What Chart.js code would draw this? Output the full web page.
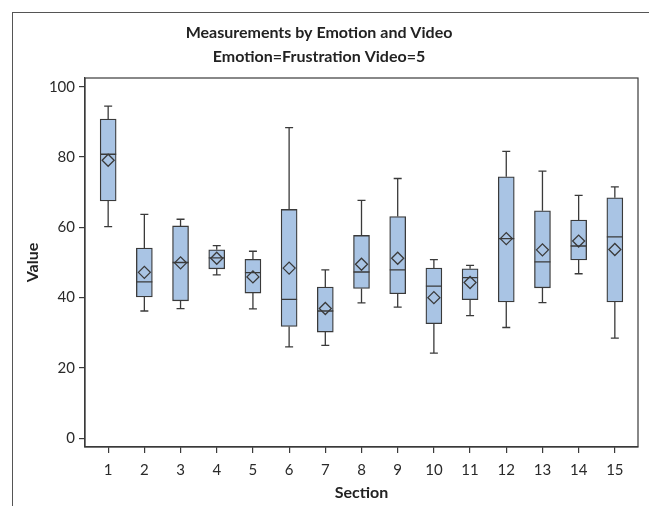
<!DOCTYPE html>
<html>
<head>
<meta charset="utf-8">
<script src="https://cdn.jsdelivr.net/npm/chart.js@4"></script>
<style>
  html, body { margin: 0; padding: 0; background: #fff; }
  .wrap { position: relative; width: 649px; height: 506px; }
  .frame { position: absolute; left: 12px; top: 12px; width: 700px; height: 600px;
           border-left: 1px solid #555; border-top: 1px solid #555; }
  canvas { position: absolute; left: 0; top: 0; }
</style>
</head>
<body>
<div class="wrap">
  <div class="frame"></div>
  <canvas id="chart" width="649" height="506"></canvas>
</div>
<script>
// data
const sections = [1, 2, 3, 4, 5, 6, 7, 8, 9, 10, 11, 12, 13, 14, 15];
const whiskerLow = [60.2, 36.2, 36.9, 46.5, 36.8, 26.0, 26.4, 38.5, 37.3, 24.2, 34.9, 31.5, 38.6, 46.8, 28.5];
const q1 = [67.5, 40.2, 39.1, 48.2, 41.3, 31.8, 30.2, 42.6, 41.1, 32.6, 39.4, 38.8, 42.8, 50.7, 38.8];
const median = [80.8, 44.5, 50.0, 51.3, 47.1, 39.5, 36.2, 47.3, 47.9, 43.3, 45.7, 56.8, 50.2, 54.7, 57.3];
const q3 = [90.8, 54.1, 60.4, 53.6, 50.9, 65.1, 43.0, 57.7, 63.1, 48.4, 48.2, 74.4, 64.7, 62.1, 68.4];
const whiskerHigh = [94.5, 63.7, 62.3, 54.8, 53.2, 88.4, 47.9, 67.7, 73.9, 50.8, 49.2, 81.6, 76.0, 69.1, 71.5];
const means = [79.1, 47.2, 49.9, 51.2, 45.9, 48.4, 36.9, 49.5, 51.2, 40.0, 44.3, 56.8, 53.6, 56.1, 53.7];
const yTicks = [0, 20, 40, 60, 80, 100];

const lineColor = '#3a3a3a';
const textColor = '#2a2a2a';

// whiskers, caps and median lines
const boxExtras = {
    id: 'boxExtras',
    afterDatasetsDraw(chart) {
        const ctx = chart.ctx;
        const x = chart.scales.x;
        const y = chart.scales.y;
        ctx.save();
        ctx.strokeStyle = lineColor;
        ctx.lineWidth = 1.3;
        sections.forEach((s, i) => {
            const px = x.getPixelForValue(s);
            ctx.beginPath();
            ctx.moveTo(px, y.getPixelForValue(q3[i]));
            ctx.lineTo(px, y.getPixelForValue(whiskerHigh[i]));
            ctx.moveTo(px, y.getPixelForValue(q1[i]));
            ctx.lineTo(px, y.getPixelForValue(whiskerLow[i]));
            ctx.moveTo(px - 4, y.getPixelForValue(whiskerHigh[i]));
            ctx.lineTo(px + 4, y.getPixelForValue(whiskerHigh[i]));
            ctx.moveTo(px - 4, y.getPixelForValue(whiskerLow[i]));
            ctx.lineTo(px + 4, y.getPixelForValue(whiskerLow[i]));
            ctx.moveTo(px - 8, y.getPixelForValue(median[i]));
            ctx.lineTo(px + 8, y.getPixelForValue(median[i]));
            ctx.stroke();
        });
        // plot frame
        const a = chart.chartArea;
        ctx.strokeStyle = lineColor;
        ctx.lineWidth = 1.2;
        ctx.strokeRect(a.left, a.top, a.right - a.left, a.bottom - a.top);
        ctx.restore();
    }
};

const chart = new Chart(document.getElementById('chart'), {
    type: 'bar',
    data: {
        datasets: [{
            type: 'scatter',
            data: sections.map((s, i) => ({ x: s, y: means[i] })),
            pointStyle: 'rectRot',
            pointRadius: 6,
            pointBorderWidth: 1.3,
            borderColor: lineColor,
            backgroundColor: 'rgba(0,0,0,0)',
            order: 0
        }, {
            type: 'bar',
            data: sections.map((s, i) => ({ x: s, y: [q1[i], q3[i]] })),
            backgroundColor: '#a9c4e4',
            borderColor: lineColor,
            borderWidth: 1.3,
            borderSkipped: false,
            barThickness: 16,
            order: 1
        }]
    },
    options: {
        responsive: false,
        animation: false,
        layout: { padding: { left: 0, right: 11, top: 0, bottom: 0 } },
        plugins: {
            legend: { display: false },
            tooltip: { enabled: false },
            title: {
                display: true,
                text: ['Measurements by Emotion and Video', 'Emotion=Frustration Video=5'],
                color: '#222',
                font: { family: 'Lato', size: 16, weight: 'bold', lineHeight: 1.5 },
                padding: { top: 21, bottom: 9 }
            }
        },
        scales: {
            x: {
                type: 'linear',
                offset: false,
                min: 0.36,
                max: 15.64,
                afterBuildTicks: s => { s.ticks = sections.map(v => ({ value: v })); },
                afterFit: s => { s.height = 59; },
                grid: { offset: false, drawOnChartArea: false, drawTicks: true, tickLength: 6, color: lineColor, lineWidth: 1.2 },
                border: { display: true, color: lineColor, width: 1.2 },
                ticks: { color: textColor, font: { family: 'Lato', size: 15 }, padding: 8, maxRotation: 0 },
                title: {
                    display: true, text: 'Section', color: '#222',
                    font: { family: 'Lato', size: 16, weight: 'bold', lineHeight: 1.2 },
                    padding: { top: 0, bottom: 4 }
                }
            },
            y: {
                type: 'linear',
                min: -2.5,
                max: 102.5,
                afterBuildTicks: s => { s.ticks = yTicks.map(v => ({ value: v })); },
                afterFit: s => { s.width = 85; },
                grid: { drawOnChartArea: false, drawTicks: true, tickLength: 6, color: lineColor, lineWidth: 1.2 },
                border: { display: true, color: lineColor, width: 1.2 },
                ticks: { color: textColor, font: { family: 'Lato', size: 15 }, padding: 4 },
                title: {
                    display: true, text: 'Value', color: '#222',
                    font: { family: 'Lato', size: 16, weight: 'bold', lineHeight: 1.2 },
                    padding: { top: 23, bottom: 0 }
                }
            }
        }
    },
    plugins: [boxExtras]
});
</script>
</body>
</html>
